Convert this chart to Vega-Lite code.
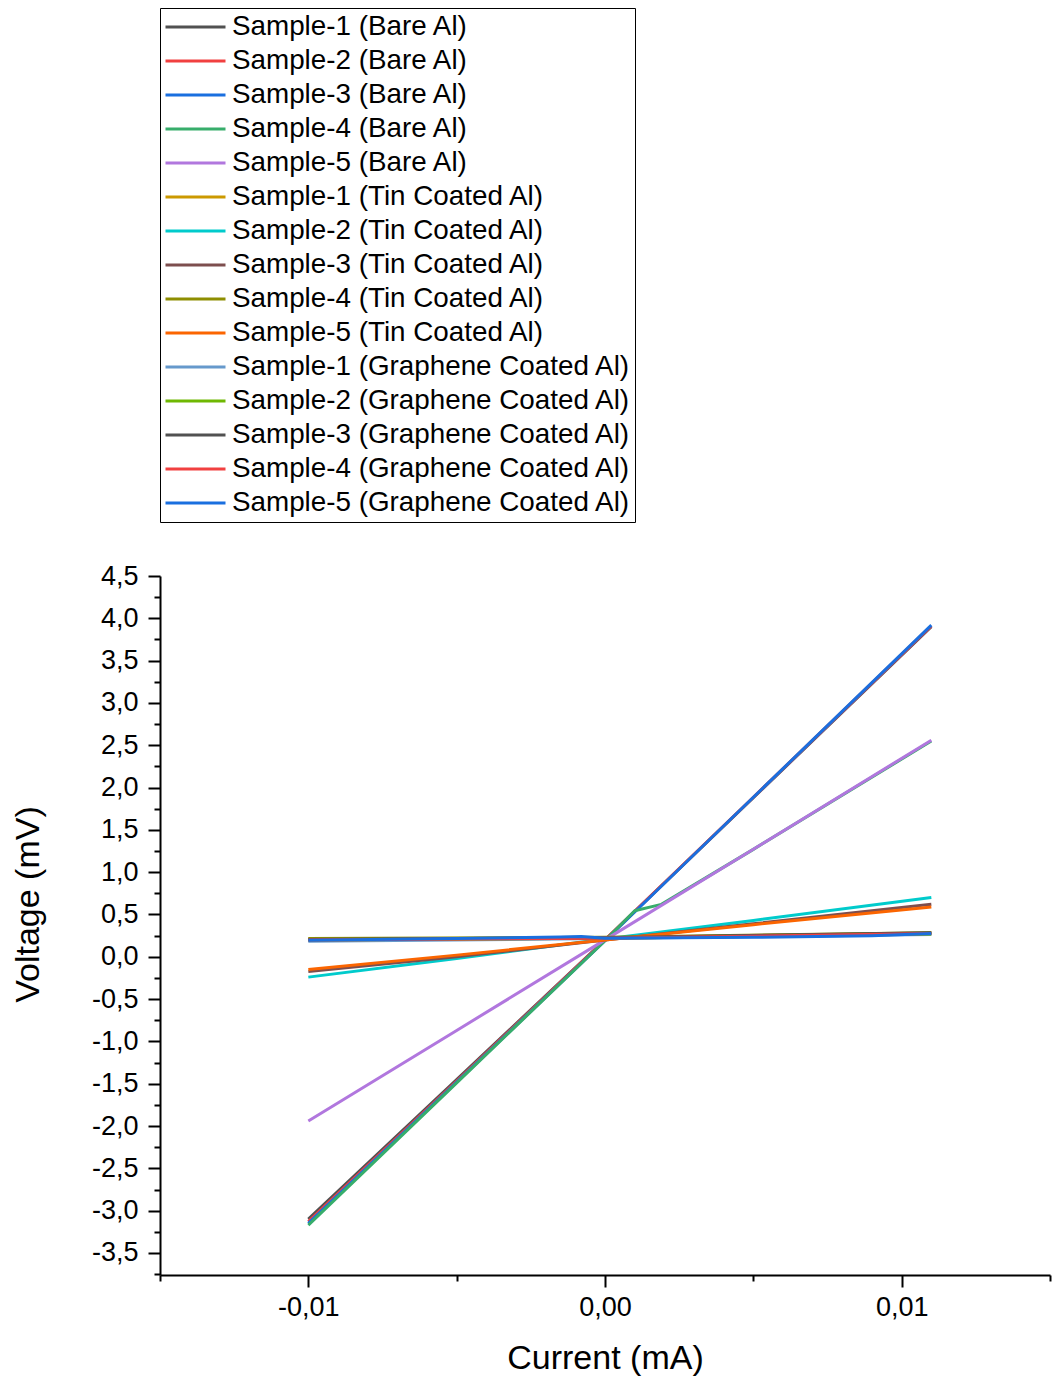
{
  "$schema": "https://vega.github.io/schema/vega-lite/v6.json",
  "autosize": {"type": "none"},
  "padding": {"left": 160, "top": 576, "right": 4, "bottom": 105},
  "width": 890,
  "height": 699,
  "background": "white",
  "config": {
    "view": {"stroke": null},
    "font": "Liberation Sans"
  },
  "data": {
    "values": [
      {"series": "Sample-1 (Bare Al)", "I": -0.01, "V": -3.10},
      {"series": "Sample-1 (Bare Al)", "I": -0.005, "V": -1.45},
      {"series": "Sample-1 (Bare Al)", "I": 0.0, "V": 0.20},
      {"series": "Sample-1 (Bare Al)", "I": 0.005, "V": 1.88},
      {"series": "Sample-1 (Bare Al)", "I": 0.011, "V": 3.90},

      {"series": "Sample-2 (Bare Al)", "I": -0.01, "V": -3.13},
      {"series": "Sample-2 (Bare Al)", "I": -0.005, "V": -1.47},
      {"series": "Sample-2 (Bare Al)", "I": 0.0, "V": 0.20},
      {"series": "Sample-2 (Bare Al)", "I": 0.005, "V": 1.886},
      {"series": "Sample-2 (Bare Al)", "I": 0.011, "V": 3.91},

      {"series": "Sample-3 (Bare Al)", "I": -0.01, "V": -3.15},
      {"series": "Sample-3 (Bare Al)", "I": -0.005, "V": -1.48},
      {"series": "Sample-3 (Bare Al)", "I": 0.0, "V": 0.19},
      {"series": "Sample-3 (Bare Al)", "I": 0.005, "V": 1.885},
      {"series": "Sample-3 (Bare Al)", "I": 0.011, "V": 3.92},

      {"series": "Sample-4 (Bare Al)", "I": -0.01, "V": -3.17},
      {"series": "Sample-4 (Bare Al)", "I": -0.005, "V": -1.49},
      {"series": "Sample-4 (Bare Al)", "I": 0.0, "V": 0.19},
      {"series": "Sample-4 (Bare Al)", "I": 0.001, "V": 0.545},
      {"series": "Sample-4 (Bare Al)", "I": 0.0019, "V": 0.62},
      {"series": "Sample-4 (Bare Al)", "I": 0.005, "V": 1.27},
      {"series": "Sample-4 (Bare Al)", "I": 0.011, "V": 2.55},

      {"series": "Sample-5 (Bare Al)", "I": -0.01, "V": -1.94},
      {"series": "Sample-5 (Bare Al)", "I": -0.005, "V": -0.87},
      {"series": "Sample-5 (Bare Al)", "I": 0.0, "V": 0.20},
      {"series": "Sample-5 (Bare Al)", "I": 0.005, "V": 1.27},
      {"series": "Sample-5 (Bare Al)", "I": 0.011, "V": 2.56},

      {"series": "Sample-1 (Tin Coated Al)", "I": -0.01, "V": 0.21},
      {"series": "Sample-1 (Tin Coated Al)", "I": 0.0, "V": 0.225},
      {"series": "Sample-1 (Tin Coated Al)", "I": 0.011, "V": 0.28},

      {"series": "Sample-2 (Tin Coated Al)", "I": -0.01, "V": -0.24},
      {"series": "Sample-2 (Tin Coated Al)", "I": -0.005, "V": -0.02},
      {"series": "Sample-2 (Tin Coated Al)", "I": 0.0, "V": 0.21},
      {"series": "Sample-2 (Tin Coated Al)", "I": 0.005, "V": 0.43},
      {"series": "Sample-2 (Tin Coated Al)", "I": 0.011, "V": 0.70},

      {"series": "Sample-3 (Tin Coated Al)", "I": -0.01, "V": -0.175},
      {"series": "Sample-3 (Tin Coated Al)", "I": -0.005, "V": 0.0},
      {"series": "Sample-3 (Tin Coated Al)", "I": 0.0, "V": 0.20},
      {"series": "Sample-3 (Tin Coated Al)", "I": 0.005, "V": 0.39},
      {"series": "Sample-3 (Tin Coated Al)", "I": 0.011, "V": 0.62},

      {"series": "Sample-4 (Tin Coated Al)", "I": -0.01, "V": 0.215},
      {"series": "Sample-4 (Tin Coated Al)", "I": 0.0, "V": 0.23},
      {"series": "Sample-4 (Tin Coated Al)", "I": 0.011, "V": 0.285},

      {"series": "Sample-5 (Tin Coated Al)", "I": -0.01, "V": -0.15},
      {"series": "Sample-5 (Tin Coated Al)", "I": -0.005, "V": 0.02},
      {"series": "Sample-5 (Tin Coated Al)", "I": 0.0, "V": 0.20},
      {"series": "Sample-5 (Tin Coated Al)", "I": 0.005, "V": 0.38},
      {"series": "Sample-5 (Tin Coated Al)", "I": 0.011, "V": 0.59},

      {"series": "Sample-1 (Graphene Coated Al)", "I": -0.01, "V": 0.185},
      {"series": "Sample-1 (Graphene Coated Al)", "I": 0.0, "V": 0.215},
      {"series": "Sample-1 (Graphene Coated Al)", "I": 0.011, "V": 0.265},

      {"series": "Sample-2 (Graphene Coated Al)", "I": -0.01, "V": 0.20},
      {"series": "Sample-2 (Graphene Coated Al)", "I": 0.0, "V": 0.22},
      {"series": "Sample-2 (Graphene Coated Al)", "I": 0.011, "V": 0.27},

      {"series": "Sample-3 (Graphene Coated Al)", "I": -0.01, "V": 0.205},
      {"series": "Sample-3 (Graphene Coated Al)", "I": 0.0, "V": 0.225},
      {"series": "Sample-3 (Graphene Coated Al)", "I": 0.011, "V": 0.285},

      {"series": "Sample-4 (Graphene Coated Al)", "I": -0.01, "V": 0.20},
      {"series": "Sample-4 (Graphene Coated Al)", "I": 0.0, "V": 0.22},
      {"series": "Sample-4 (Graphene Coated Al)", "I": 0.011, "V": 0.275},

      {"series": "Sample-5 (Graphene Coated Al)", "I": -0.01, "V": 0.195},
      {"series": "Sample-5 (Graphene Coated Al)", "I": -0.005, "V": 0.215},
      {"series": "Sample-5 (Graphene Coated Al)", "I": -0.0015, "V": 0.235},
      {"series": "Sample-5 (Graphene Coated Al)", "I": -0.0008, "V": 0.24},
      {"series": "Sample-5 (Graphene Coated Al)", "I": 0.0, "V": 0.22},
      {"series": "Sample-5 (Graphene Coated Al)", "I": 0.005, "V": 0.23},
      {"series": "Sample-5 (Graphene Coated Al)", "I": 0.009, "V": 0.25},
      {"series": "Sample-5 (Graphene Coated Al)", "I": 0.011, "V": 0.275}
    ]
  },
  "mark": {"type": "line", "strokeWidth": 3, "strokeJoin": "round"},
  "encoding": {
    "x": {
      "field": "I",
      "type": "quantitative",
      "title": "Current (mA)",
      "scale": {"domain": [-0.015, 0.015], "nice": false, "zero": false},
      "axis": {
        "values": [-0.015, -0.01, -0.005, 0, 0.005, 0.01, 0.015],
        "labelExpr": "abs(datum.value * 100 - round(datum.value * 100)) < 1e-6 ? replace(replace(format(datum.value, '.2f'), '.', ','), '\u2212', '-') : ''",
        "labelOverlap": false,
        "labelFontSize": 27,
        "labelColor": "black",
        "labelPadding": 7,
        "tickSize": {"condition": {"test": "abs(datum.value * 100 - round(datum.value * 100)) < 1e-6", "value": 12}, "value": 6},
        "tickColor": "black",
        "tickWidth": 2,
        "domainColor": "black",
        "domainWidth": 2,
        "grid": false,
        "titleFontSize": 34,
        "titleFontWeight": "normal",
        "titleColor": "black",
        "titleBaseline": "middle",
        "titleY": 83
      }
    },
    "y": {
      "field": "V",
      "type": "quantitative",
      "title": "Voltage (mV)",
      "scale": {"domain": [-3.76, 4.5], "nice": false, "zero": false},
      "axis": {
        "values": [-3.75, -3.5, -3.25, -3, -2.75, -2.5, -2.25, -2, -1.75, -1.5, -1.25, -1, -0.75, -0.5, -0.25, 0, 0.25, 0.5, 0.75, 1, 1.25, 1.5, 1.75, 2, 2.25, 2.5, 2.75, 3, 3.25, 3.5, 3.75, 4, 4.25, 4.5],
        "labelExpr": "abs(datum.value * 2 - round(datum.value * 2)) < 1e-6 ? replace(replace(format(datum.value, '.1f'), '.', ','), '\u2212', '-') : ''",
        "labelOverlap": false,
        "labelFontSize": 27,
        "labelColor": "black",
        "labelPadding": 10,
        "tickSize": {"condition": {"test": "abs(datum.value * 2 - round(datum.value * 2)) < 1e-6", "value": 12}, "value": 6},
        "tickColor": "black",
        "tickWidth": 2,
        "domainColor": "black",
        "domainWidth": 2,
        "grid": false,
        "titleFontSize": 34,
        "titleFontWeight": "normal",
        "titleColor": "black",
        "titleAngle": -90,
        "titleAlign": "center",
        "titleBaseline": "middle",
        "titleX": -132,
        "titleY": 328
      }
    },
    "color": {
      "field": "series",
      "type": "nominal",
      "scale": {
        "domain": [
          "Sample-1 (Bare Al)", "Sample-2 (Bare Al)", "Sample-3 (Bare Al)", "Sample-4 (Bare Al)", "Sample-5 (Bare Al)",
          "Sample-1 (Tin Coated Al)", "Sample-2 (Tin Coated Al)", "Sample-3 (Tin Coated Al)", "Sample-4 (Tin Coated Al)", "Sample-5 (Tin Coated Al)",
          "Sample-1 (Graphene Coated Al)", "Sample-2 (Graphene Coated Al)", "Sample-3 (Graphene Coated Al)", "Sample-4 (Graphene Coated Al)", "Sample-5 (Graphene Coated Al)"
        ],
        "range": [
          "#515151", "#F14040", "#1A6FDF", "#37AD6B", "#B177DE",
          "#CC9900", "#00CBCC", "#7D4E4E", "#8E8E00", "#FB6501",
          "#6699CC", "#6FB802", "#515151", "#F14040", "#1A6FDF"
        ]
      },
      "legend": {
        "title": null,
        "orient": "none",
        "legendX": 0,
        "legendY": -568,
        "symbolType": "stroke",
        "symbolSize": 3600,
        "symbolStrokeWidth": 3,
        "labelFontSize": 27.8,
        "labelColor": "black",
        "labelLimit": 600,
        "labelOffset": 5,
        "clipHeight": 30,
        "rowPadding": 4,
        "padding": 4,
        "strokeColor": "black",
        "fillColor": "white"
      }
    }
  }
}
